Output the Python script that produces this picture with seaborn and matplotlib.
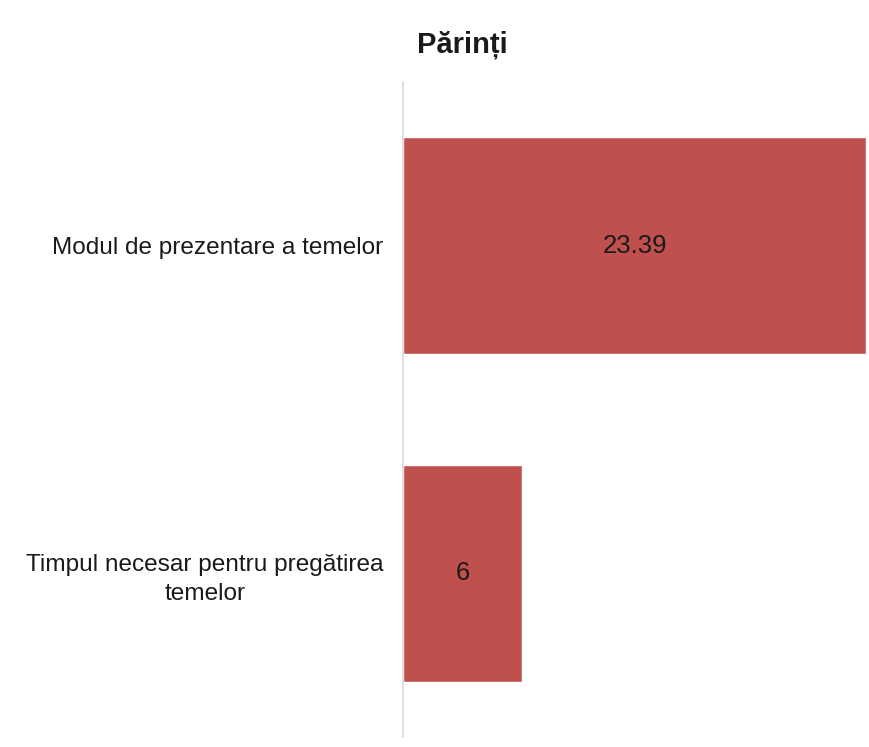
import matplotlib
matplotlib.use("Agg")
import matplotlib.pyplot as plt
import pandas as pd
import seaborn as sns
from matplotlib import font_manager

# data
categories = ["Modul de prezentare a temelor",
              "Timpul necesar pentru pregătirea\ntemelor"]
values = [23.39, 6]
value_labels = ["23.39", "6"]
title = "Părinți"

sns.set_theme(style="white")
names = {f.name for f in font_manager.fontManager.ttflist}
narrow = "Liberation Sans Narrow" if "Liberation Sans Narrow" in names else "Liberation Sans"
plt.rcParams["font.family"] = [narrow, "DejaVu Sans"]

df = pd.DataFrame({"cat": categories, "val": values})

fig = plt.figure(figsize=(8.69, 7.47), dpi=100)
ax = fig.add_axes([403 / 869, 1 - 737 / 747, 463 / 869, 655 / 747])

sns.barplot(data=df, y="cat", x="val", orient="h", color="#C0504D",
            saturation=1, width=0.664, ax=ax)

ax.set_xlim(0, 23.39)
ax.set_ylim(1.5, -0.5)
ax.set_xlabel("")
ax.set_ylabel("")
ax.set_xticks([])
for s in ["top", "right", "bottom"]:
    ax.spines[s].set_visible(False)
ax.spines["left"].set_color("#D9D9D9")
ax.spines["left"].set_linewidth(1.2)
ax.tick_params(axis="y", length=0, pad=14, labelsize=17.6, labelcolor="#1a1a1a")
for lbl in ax.get_yticklabels():
    lbl.set_multialignment("center")
    lbl.set_linespacing(1.45)

for i, (v, t) in enumerate(zip(values, value_labels)):
    ax.text(v / 2, i, t, ha="center", va="center", fontsize=18.5, color="#1a1a1a")

fig.text(462 / 869, 1 - 45 / 747, title, ha="center", va="center",
         fontsize=21, fontweight="bold", color="#1a1a1a")

fig.savefig("out.png", dpi=100)
